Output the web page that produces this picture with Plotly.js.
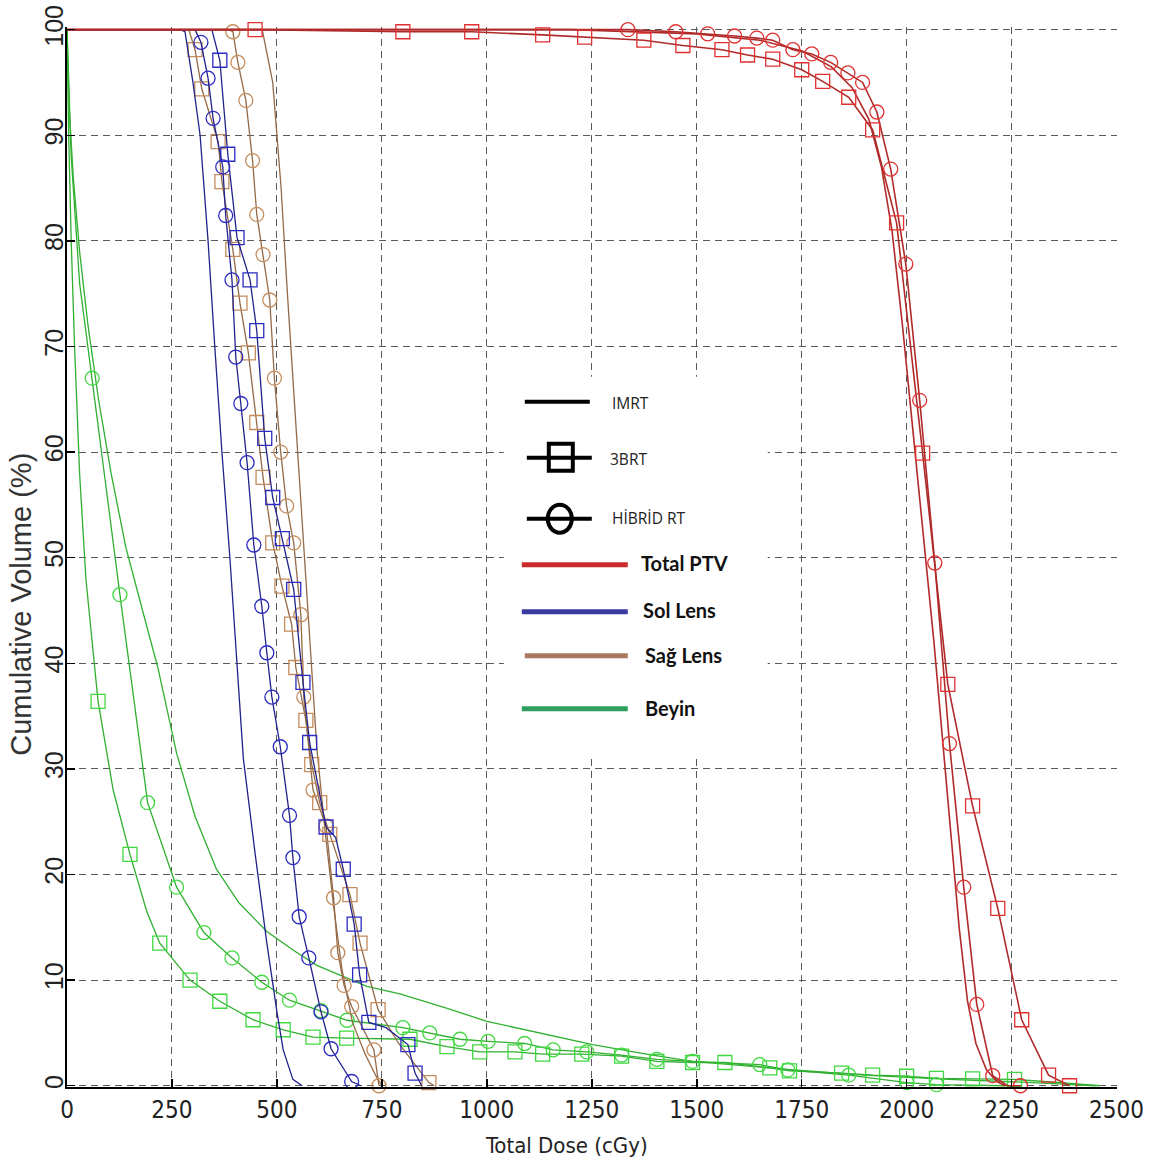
<!DOCTYPE html>
<html><head><meta charset="utf-8">
<script src="https://cdn.plot.ly/plotly-3.0.1.min.js"></script>
<style>html,body{margin:0;padding:0;background:#fff;} #chart{width:1153px;height:1169px;}</style>
</head><body><div id="chart"></div>
<script>
// ---------------- DATA (dose in cGy, cumulative volume in %) ----------------
// Total PTV
const ptvImrtDose = [0,1200,1500,1650,1750,1820,1870,1910,1940,1965,1990,2015,2040,2065,2085,2105,2125,2145,2165,2190,2215,2235];
const ptvImrtVol  = [100,100,99.6,99,98,96.5,94.5,91.5,87,81,72,62,52,42,33,24,15,8,4,1.5,0.4,0];
const ptv3bMarkDose = [448,800,964,1133,1233,1374,1467,1560,1621,1681,1750,1800,1862,1919,1976,2038,2098,2157,2217,2274,2338,2388];
const ptv3bMarkVol  = [100,99.8,99.8,99.5,99.3,99.0,98.5,98.1,97.6,97.2,96.2,95.1,93.6,90.5,81.7,59.9,38,26.5,16.8,6.25,1.0,0];
const ptv3bLineDose = [0];
const ptv3bLineVol  = [100];
const ptvHibMarkDose = [1336,1450,1526,1590,1643,1681,1729,1774,1819,1860,1895,1929,1962,1998,2031,2067,2102,2136,2167,2205,2271];
const ptvHibMarkVol  = [100,99.8,99.6,99.4,99.2,99.0,98.1,97.7,96.9,95.9,95.0,92.2,86.8,77.8,64.9,49.5,32.4,18.8,7.7,0.95,0];
const ptvHibLineDose = [0,2240];
const ptvHibLineVol  = [100,0];
// Sol Lens
const solImrtDose = [0,270,281,300,317,336,352,369,388,405,420,448,476,500,515,538,560];
const solImrtVol  = [100,100,99.8,95,90,80,70,60,50,40,31,22,13.5,7,3.4,0.6,0];
const sol3bMarkDose = [364,383,405,436,452,471,490,513,540,562,578,617,658,684,697,719,812,829];
const sol3bMarkVol  = [97.1,88.2,80.3,76.3,71.5,61.3,55.7,51.8,47,38.2,32.5,24.5,20.5,15.3,10.5,6,3.9,1.2];
const sol3bLineDose = [0,345,640,760,845];
const sol3bLineVol  = [100,100,23.5,5.5,0];
const solHibMarkDose = [319,336,348,371,378,393,402,414,429,445,464,476,488,508,530,538,553,576,605,629,678];
const solHibMarkVol  = [98.8,95.4,91.6,87,82.4,76.3,69,64.6,59,51.2,45.4,41,36.8,32.1,25.6,21.6,16,12.1,7,3.5,0.4];
const solHibLineDose = [0,305,700];
const solHibLineVol  = [100,100,0];
// Sağ Lens
const sagImrtDose = [0,465,490,510,525,538,557,576,595,615,635,655,680,710,735,750];
const sagImrtVol  = [100,100,95,85,75,67,55,43,32,24,17,11,6,3,1,0];
const sag3bMarkDose = [305,321,360,369,395,412,432,452,467,490,512,535,545,569,583,602,626,674,698,741,862];
const sag3bMarkVol  = [98.1,94.4,89.4,85.6,79.2,74.1,69.4,62.8,57.6,51.4,47.3,43.7,39.6,34.6,30.4,26.8,23.8,18.1,13.5,7.2,0.3];
const sag3bLineDose = [0,290,790,875];
const sag3bLineVol  = [100,100,4,0];
const sagHibMarkDose = [395,407,426,442,452,467,483,494,509,523,540,557,564,586,617,635,645,660,678,731,743];
const sagHibMarkVol  = [99.8,96.9,93.3,87.6,82.5,78.7,74.4,67,60,54.9,51.4,44.6,36.8,28,24.6,17.8,12.6,9.5,7.5,3.4,0];
const sagHibLineDose = [0,385];
const sagHibLineVol  = [100,100];
// Beyin
const beyImrtDose = [0,6,15,30,50,75,105,140,180,217,261,305,356,410,476,540,595,714,793,900,1000,1130,1252,1380,1490,1700,1900,2100,2300,2450];
const beyImrtVol  = [100,92,86,79,72,65,58,51,45,39.5,31.5,25.5,20.5,17.3,14.6,12.8,11.4,9.4,8.7,7.4,6.1,5,3.9,3,2.3,1.6,1,0.6,0.3,0];
const bey3bMarkDose = [74,150,221,293,364,443,515,586,666,817,905,983,1067,1133,1226,1321,1405,1490,1567,1674,1721,1845,1919,2000,2071,2157,2257];
const bey3bMarkVol  = [36.4,21.9,13.5,10,8,6.25,5.3,4.6,4.5,4.4,3.7,3.2,3.2,3.0,3.0,2.8,2.3,2.2,2.2,1.7,1.4,1.2,1.0,0.9,0.7,0.65,0.6];
const bey3bLineDose = [0,4,10,18,30,45,110,190,2400,2460];
const bey3bLineVol  = [100,90,80,70,58,48,28,16.5,0.2,0];
const beyHibMarkDose = [60,126,192,261,326,393,464,530,605,667,800,864,936,1003,1090,1158,1238,1321,1405,1490,1650,1717,1862,2000,2071];
const beyHibMarkVol  = [67,46.5,26.8,18.8,14.5,12.1,9.8,8.1,7.1,6.2,5.5,5.0,4.4,4.2,4.0,3.4,3.2,2.9,2.5,2.3,2.0,1.5,1.0,0.3,0.1];
const beyHibLineDose = [0,10,30,92,2238];
const beyHibLineVol  = [100,88,76,57,0];

const xTicks = [0,250,500,750,1000,1250,1500,1750,2000,2250,2500];
const yTicks = [0,10,20,30,40,50,60,70,80,90,100];
const structureNames = ['Total PTV','Sol Lens','Sağ Lens','Beyin'];
const techniqueNames = ['IMRT','3BRT','HİBRİD RT'];
const xTitle = 'Total Dose (cGy)';
const yTitle = 'Cumulative Volume (%)';

// ---------------- STYLE ----------------
const lineCol = {ptv:'#b02a2a', sol:'#22228c', sag:'#946a48', bey:'#30b030'};
const lineW   = {ptv:1.6, sol:1.3, sag:1.3, bey:1.3};
const markCol = {ptv:'#e03030', sol:'#2b2bc0', sag:'#c48c5c', bey:'#40d840'};
const legCol  = {ptv:'#cc2b2b', sol:'#3a3aa0', sag:'#a87b60', bey:'#2f9f5f'};

function merge(ld, lv, md, mv) {
  const pts = [];
  ld.forEach((d,i)=>pts.push([d, lv[i]]));
  md.forEach((d,i)=>pts.push([d, mv[i]]));
  pts.sort((a,b)=> a[0]-b[0] || b[1]-a[1]);
  return {x: pts.map(p=>p[0]), y: pts.map(p=>p[1])};
}
const traces = [];
function addLine(x, y, key) {
  traces.push({type:'scatter', mode:'lines', x:x, y:y, showlegend:false, hoverinfo:'skip',
    line:{color:lineCol[key], width:lineW[key]}});
}
function addMarks(x, y, key, sym) {
  traces.push({type:'scatter', mode:'markers', x:x, y:y, showlegend:false, cliponaxis:false,
    marker:{symbol:sym, size:14, color:markCol[key], line:{color:markCol[key], width:1.3}}});
}
function series(key, imrtD, imrtV, b3ld, b3lv, b3md, b3mv, hld, hlv, hmd, hmv) {
  addLine(imrtD, imrtV, key);
  const b = merge(b3ld, b3lv, b3md, b3mv); addLine(b.x, b.y, key);
  const h = merge(hld, hlv, hmd, hmv); addLine(h.x, h.y, key);
  addMarks(b3md, b3mv, key, 'square-open');
  addMarks(hmd, hmv, key, 'circle-open');
}
series('bey', beyImrtDose, beyImrtVol, bey3bLineDose, bey3bLineVol, bey3bMarkDose, bey3bMarkVol, beyHibLineDose, beyHibLineVol, beyHibMarkDose, beyHibMarkVol);
series('sag', sagImrtDose, sagImrtVol, sag3bLineDose, sag3bLineVol, sag3bMarkDose, sag3bMarkVol, sagHibLineDose, sagHibLineVol, sagHibMarkDose, sagHibMarkVol);
series('sol', solImrtDose, solImrtVol, sol3bLineDose, sol3bLineVol, sol3bMarkDose, sol3bMarkVol, solHibLineDose, solHibLineVol, solHibMarkDose, solHibMarkVol);
series('ptv', ptvImrtDose, ptvImrtVol, ptv3bLineDose, ptv3bLineVol, ptv3bMarkDose, ptv3bMarkVol, ptvHibLineDose, ptvHibLineVol, ptvHibMarkDose, ptvHibMarkVol);

// ---------------- LAYOUT ----------------
// pixel geometry: dose 0 -> x=67, 2500 -> x=1117 ; volume 0 -> y=1086, 100 -> y=30
const W=1153, H=1169;
const X0=67, X1=1117, Y0=1086, Y1=30;
const xr=[0,2501], yr=[-0.12,100.25];
const kx=(X1-X0)/2500, ky=(Y0-Y1)/100;
const L = X0 - (0-xr[0])*kx, Rpx = X0 + (xr[1])*kx;
const Bpx = Y0 + (0-yr[0])*ky, Tpx = Y0 - yr[1]*ky;
const margin = {l:L, r:W-Rpx, t:Tpx, b:H-Bpx, pad:0};
const px = v => (v-L)/(Rpx-L);
const py = v => (Bpx-v)/(Bpx-Tpx);
const narrow = '"Liberation Sans Narrow", "DejaVu Sans Condensed", "Arial Narrow", "Liberation Sans", Arial, sans-serif';
const sans = '"Liberation Sans", Arial, sans-serif';

const shapes = [];
const annotations = [];
// white panel behind the key (hides the grid there, as in the original)
shapes.push({type:'rect', xref:'paper', yref:'paper', x0:px(504), x1:px(768), y0:py(377), y1:py(757), fillcolor:'#fff', line:{width:0}, layer:'above'});
function legLine(x0, x1, y, color, w) {
  shapes.push({type:'line', xref:'paper', yref:'paper', x0:px(x0), x1:px(x1), y0:py(y), y1:py(y), line:{color:color, width:w}});
}
legLine(525, 590, 402, '#000', 4);
legLine(527, 592, 458, '#000', 4);
shapes.push({type:'rect', xref:'paper', yref:'paper', x0:px(549), x1:px(573), y0:py(444), y1:py(471), fillcolor:'rgba(0,0,0,0)', line:{color:'#000', width:4}});
legLine(527, 592, 519, '#000', 4);
shapes.push({type:'circle', xref:'paper', yref:'paper', x0:px(548), x1:px(572), y0:py(505), y1:py(533), fillcolor:'rgba(0,0,0,0)', line:{color:'#000', width:4}});
legLine(522, 628, 565, legCol.ptv, 5);
legLine(522, 628, 612, legCol.sol, 5);
legLine(525, 628, 656, legCol.sag, 5);
legLine(522, 628, 709, legCol.bey, 5);
function legText(txt, x, y, bold) {
  annotations.push({text: bold ? '<b>'+txt+'</b>' : txt, xref:'paper', yref:'paper', x:px(x), y:py(y),
    xanchor:'left', yanchor:'middle', showarrow:false,
    font: bold ? {family:'Lato, "Open Sans", sans-serif', size:20, color:'#111'} : {family:'"Open Sans", sans-serif', size:15.5, color:'#222'}});
}
legText(techniqueNames[0], 610, 403, false);
legText(techniqueNames[1], 608, 459, false);
legText(techniqueNames[2], 610, 518, false);
legText(structureNames[0], 639, 563, true);
legText(structureNames[1], 641, 610, true);
legText(structureNames[2], 643, 655, true);
legText(structureNames[3], 643, 708, true);
// axis titles placed like the original
annotations.push({text:xTitle, xref:'paper', yref:'paper', x:px(567), y:py(1146), xanchor:'center', yanchor:'middle', showarrow:false,
  font:{family:narrow, size:22, color:'#222'}});
annotations.push({text:yTitle, xref:'paper', yref:'paper', x:px(21), y:py(605), xanchor:'center', yanchor:'middle', showarrow:false, textangle:-90,
  font:{family:sans, size:29, color:'#333'}});

const axisCommon = {ticks:'inside', ticklen:8, tickwidth:1.5, tickcolor:'#000',
  showline:true, linecolor:'#000', linewidth:2, zeroline:false,
  showgrid:true, gridcolor:'#5a5a5a', gridwidth:1, griddash:'7px,5px'};
const layout = {
  width:W, height:H, margin:margin,
  paper_bgcolor:'#fff', plot_bgcolor:'#fff', showlegend:false,
  xaxis:Object.assign({range:xr, tickvals:xTicks, ticktext:xTicks.map(String),
    tickfont:{family:narrow, size:24, color:'#222'}}, axisCommon),
  yaxis:Object.assign({range:yr, tickvals:yTicks, ticktext:yTicks.map(String), tickangle:-90, ticklabelstandoff:-8,
    tickfont:{family:sans, size:25, color:'#222'}}, axisCommon),
  shapes:shapes, annotations:annotations
};
Plotly.newPlot('chart', traces, layout, {staticPlot:true, displayModeBar:false});
</script></body></html>
